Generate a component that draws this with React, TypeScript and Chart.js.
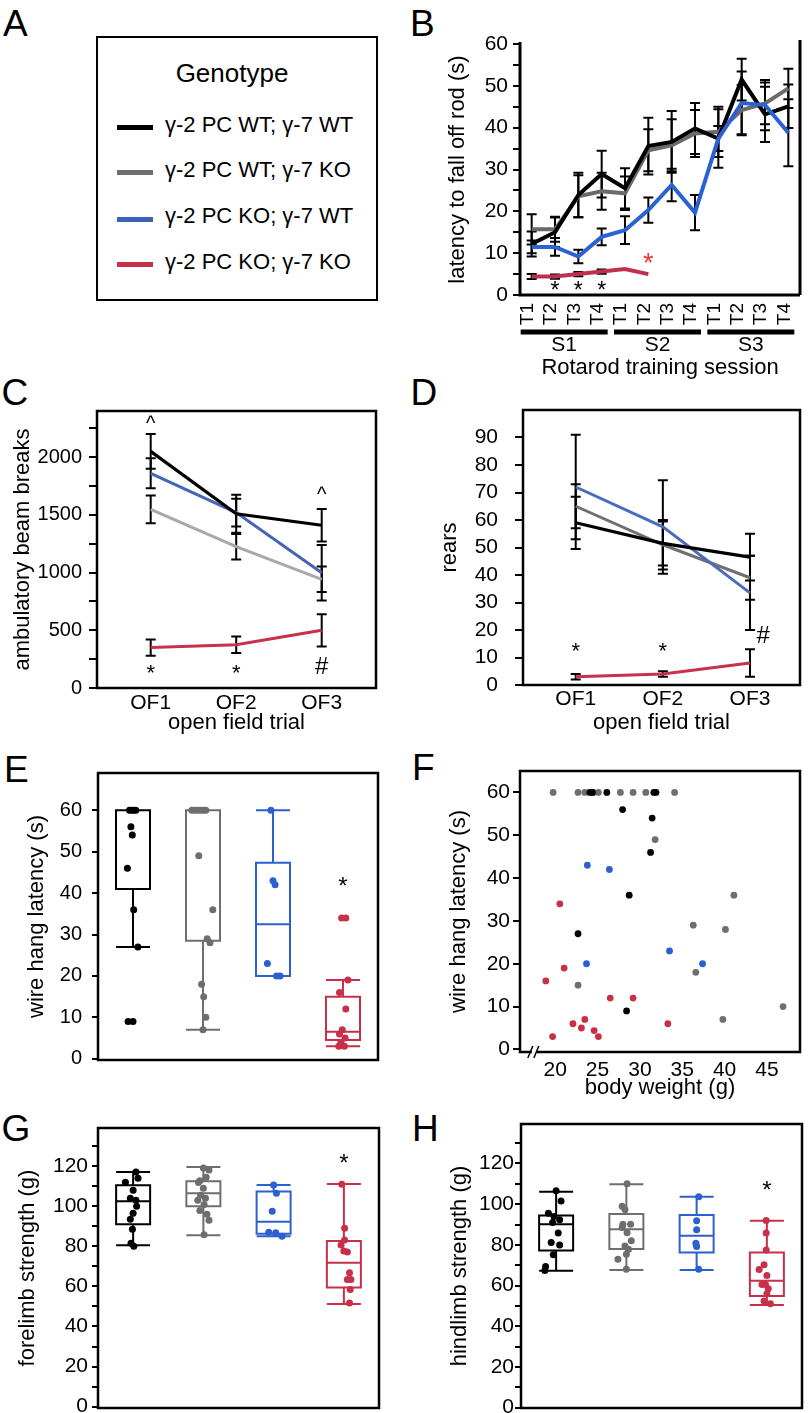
import React, { useEffect, useRef } from "react";
import { Chart, registerables } from "chart.js";

Chart.register(...registerables);

const FONT = "'Liberation Sans', Arial, Helvetica, sans-serif";
Chart.defaults.font.family = FONT;
Chart.defaults.color = "#000";

// ================= Panel A : genotypes =================
const GENOTYPES = ["γ-2 PC WT; γ-7 WT", "γ-2 PC WT; γ-7 KO", "γ-2 PC KO; γ-7 WT", "γ-2 PC KO; γ-7 KO"];
const LEGEND_COLORS = ["#000000", "#6e6e6e", "#3b62b6", "#c8304a"];

// ================= Panel B : rotarod =================
const B_TRIALS = ["T1", "T2", "T3", "T4", "T1", "T2", "T3", "T4", "T1", "T2", "T3", "T4"];
const B_SESSIONS = ["S1", "S2", "S3"];
const B_SESSION_FIRST = [0, 4, 8];
const B_SESSION_LAST = [3, 7, 11];
const B_WT_WT = [12.2, 15, 23.9, 28.9, 25.5, 35.6, 36.6, 39.8, 37.4, 51.5, 43.2, 45.1];
const B_WT_WT_SEM = [3, 3.5, 5.3, 5.6, 4.8, 6.8, 7.4, 6.1, 7, 5, 6.6, 5.2];
const B_WT_KO = [15.7, 15.7, 23.6, 24.8, 24.3, 34.6, 35.8, 38.6, 39, 44.2, 45.8, 49.4];
const B_WT_KO_SEM = [3.6, 3, 5, 4.4, 4, 5, 6.2, 5.6, 6, 6, 5, 4.7];
const B_KO_WT = [11.5, 11.5, 9.2, 13.9, 15.5, 20.3, 26.3, 19.7, 37.4, 45.9, 45.4, 38.8];
const B_KO_WT_SEM = [1.5, 2.1, 1.6, 2, 3.3, 3, 3.9, 4.2, 3, 7.5, 6, 8];
const B_KO_KO = [4.4, 4.4, 5.0, 5.6, 6.2, 5.0];
const B_KO_KO_SEM = [0.6, 0.5, 0.5, 0.5, 0, 0];
const B_Y_TICKS = [0, 5, 10, 15, 20, 25, 30, 35, 40, 45, 50, 55, 60];
const B_STAR_IDX = [1, 2, 3];
const B_STAR_Y = 0.7;
const B_RED_STAR_IDX = 5;
const B_RED_STAR_Y = 7.3;

// ================= Panels C / D : open field =================
const OF_POS = [1, 2, 3];
const OF_LABELS = ["OF1", "OF2", "OF3"];
const C_WT_WT = [2050, 1510, 1410];
const C_WT_WT_SEM = [150, 165, 140];
const C_WT_KO = [1548, 1224, 942];
const C_WT_KO_SEM = [120, 110, 110];
const C_KO_WT = [1860, 1520, 999];
const C_KO_WT_SEM = [130, 120, 240];
const C_KO_KO = [350, 375, 500];
const C_KO_KO_SEM = [70, 72, 140];
const C_Y_TICKS = [0, 250, 500, 750, 1000, 1250, 1500, 1750, 2000, 2250];
const C_MARK_X = [1, 3, 1, 2, 3];
const C_MARK_Y = [2280, 1664, 120, 120, 180];
const C_MARK_T = ["^", "^", "*", "*", "#"];

const D_WT_WT = [59, 51.5, 46.5];
const D_WT_WT_SEM = [9.5, 8, 8.5];
const D_WT_KO = [65, 51, 39];
const D_WT_KO_SEM = [8, 9, 8];
const D_KO_WT = [72, 57.5, 33.5];
const D_KO_WT_SEM = [19, 17, 13.5];
const D_KO_KO = [3, 4, 8];
const D_KO_KO_SEM = [1, 1, 5];
const D_Y_TICKS = [0, 10, 20, 30, 40, 50, 60, 70, 80, 90];
const D_MARK_X = [1, 2, 3.15];
const D_MARK_Y = [12, 12, 17.8];
const D_MARK_T = ["*", "*", "#"];

// ================= Panel E : wire hang box plots =================
const GROUP_POS = [1, 2, 3, 4];
// [whisker low, Q1, median, Q3, whisker high]
const E_STATS = [
  [27, 41, 60, 60, 60],
  [7, 28.5, 60, 60, 60],
  [20, 20, 32.5, 47.3, 60],
  [3, 4.5, 6.5, 15, 19],
];
const E_WT_WT_X = [0.95, 0.98, 1.01, 1.04, 0.97, 0.99, 0.92, 1.01, 1.07, 0.93, 1.0];
const E_WT_WT_Y = [60, 60, 60, 60, 56, 54, 46, 36, 27, 9, 9];
const E_WT_KO_X = [1.84, 1.88, 1.92, 1.96, 2.0, 2.04, 1.94, 2.14, 2.06, 2.1, 1.98, 2.01, 2.04, 2.0];
const E_WT_KO_Y = [60, 60, 60, 60, 60, 60, 49, 36, 29, 28, 18, 15, 10, 7];
const E_KO_WT_X = [2.97, 3.0, 3.03, 2.92, 3.05, 3.1];
const E_KO_WT_Y = [60, 43, 42, 23, 20, 20];
const E_KO_KO_X = [3.98, 4.04, 4.07, 3.95, 4.04, 3.99, 3.95, 4.03, 3.97, 3.94, 4.02];
const E_KO_KO_Y = [34, 34, 19, 16, 12, 7, 6, 5, 4, 3, 3];
const E_Y_TICKS = [0, 10, 20, 30, 40, 50, 60];
const E_STAR = [4, 41.4];

// ================= Panel F : wire hang vs body weight =================
const F_WT_WT_W = [24.1, 24.4, 26.1, 31.65, 31.9, 27.96, 31.45, 31.26, 28.74, 22.7, 28.43];
const F_WT_WT_L = [60, 60, 60, 60, 60, 56, 54, 46, 36, 27, 9];
const F_WT_KO_W = [19.76, 22.7, 23.5, 24.5, 25.1, 27.7, 29.2, 30.7, 34.1, 31.8, 41.1, 36.3, 40.1, 36.6, 22.7, 46.9, 39.8];
const F_WT_KO_L = [60, 60, 60, 60, 60, 60, 60, 60, 60, 49, 36, 29, 28, 18, 15, 10, 7];
const F_KO_WT_W = [23.8, 26.4, 33.5, 23.7, 37.4];
const F_KO_WT_L = [43, 42, 23, 20, 20];
const F_KO_KO_W = [20.55, 21.06, 18.9, 26.5, 29.2, 23.5, 22.1, 33.3, 23.1, 24.6, 19.7, 25.1];
const F_KO_KO_L = [34, 19, 16, 12, 12, 7, 6, 6, 5, 4.4, 3, 3];
const F_X_TICKS = [20, 25, 30, 35, 40, 45];
const F_Y_TICKS = [0, 10, 20, 30, 40, 50, 60];
const F_BREAK_AT = 17.6;

// ================= Panel G : forelimb strength =================
const G_STATS = [
  [80.5, 91, 102.5, 110.5, 117],
  [85.5, 100, 106.5, 112.5, 119.5],
  [85, 86.2, 92.3, 107.3, 110.6],
  [51.2, 59.4, 71.8, 82.6, 111.1],
];
const G_WT_WT_X = [1.04, 1.07, 0.89, 1.0, 0.96, 1.04, 1.05, 1.0, 0.96, 0.99, 0.97, 1.01];
const G_WT_WT_Y = [117, 114, 112, 108, 104, 103, 100, 96.5, 93.5, 88.5, 81.5, 80];
const G_WT_KO_X = [2.0, 2.08, 1.95, 2.04, 1.93, 2.0, 1.96, 2.03, 1.92, 2.01, 1.95, 2.05, 2.08, 2.01];
const G_WT_KO_Y = [119, 118, 112.7, 114.4, 111.8, 109, 105.5, 104, 103, 100.8, 97.8, 96, 93, 85.7];
const G_KO_WT_X = [3.0, 3.04, 2.98, 2.93, 3.03, 3.12];
const G_KO_WT_Y = [110.6, 106.4, 97.5, 87, 86.7, 85];
const G_KO_KO_X = [3.97, 4.01, 4.01, 3.96, 4.0, 4.05, 4.08, 4.05, 4.1, 4.09, 4.08];
const G_KO_KO_Y = [111, 89, 83.1, 80.7, 77.7, 77.2, 66.8, 63.5, 63.5, 58.4, 51.7];
const GH_Y_TICKS = [0, 10, 20, 30, 40, 50, 60, 70, 80, 90, 100, 110, 120, 130];
const G_STAR = [4, 121];

// ================= Panel H : hindlimb strength =================
const H_STATS = [
  [67.3, 77.2, 90.1, 94.4, 106.1],
  [67.7, 78, 87.7, 95.2, 109.8],
  [67.7, 76.3, 84.5, 94.7, 103.7],
  [50.5, 54.9, 62.4, 76.2, 91.9],
];
const H_WT_WT_X = [1.0, 1.07, 0.89, 0.97, 1.05, 0.95, 1.03, 0.93, 1.05, 0.96, 0.85, 0.84];
const H_WT_WT_Y = [106.6, 101.6, 95.5, 94, 92.3, 91, 85.8, 81.2, 80, 75.1, 69.4, 67.4];
const H_WT_KO_X = [2.01, 1.94, 1.98, 1.95, 2.06, 1.94, 2.01, 2.07, 1.98, 2.03, 2.0, 1.88, 2.0];
const H_WT_KO_Y = [110, 99, 97.4, 90.1, 90.1, 88.5, 86, 82, 79.5, 77.9, 75.4, 73, 68];
const H_KO_WT_X = [3.03, 3.0, 3.0, 2.99, 3.0, 3.03];
const H_KO_WT_Y = [103.7, 91.8, 87.4, 80.8, 79.2, 68];
const H_KO_KO_X = [3.99, 3.99, 3.99, 3.96, 3.89, 4.0, 3.98, 3.93, 4.02, 4.0, 3.96, 4.05];
const H_KO_KO_Y = [92, 85.8, 77.5, 70.3, 67.9, 64.9, 60.5, 60.5, 58.4, 56, 52.4, 51.1];
const H_STAR = [4, 106.5];

// ================= colours per panel =================
const COL_B = ["#000000", "#6a6a6a", "#2a62d4", "#c0304c"];
const COL_C = ["#000000", "#a8a8a8", "#4566b4", "#c8304c"];
const COL_D = ["#000000", "#707070", "#4a6cbf", "#c8304c"];
const COL_PTS = ["#000000", "#6e6e6e", "#2c5fd0", "#c8304a"];
const STAR_RED = "#e8383c";

// ================= helpers =================
function zeroPad(s: any) {
  s.paddingTop = 0;
  s.paddingBottom = 0;
  s.paddingLeft = 0;
  s.paddingRight = 0;
}

function yAxis(p: any) {
  return {
    type: "linear",
    position: "left",
    min: p.min,
    max: p.max,
    afterBuildTicks: (s: any) => {
      s.ticks = p.ticks.map((v: number) => ({ value: v }));
    },
    afterFit: (s: any) => {
      s.width = p.width;
      zeroPad(s);
    },
    ticks: {
      autoSkip: false,
      padding: p.tickPad,
      color: "#000",
      font: { size: p.size },
      callback: (v: any) =>
        v % p.labelStep === 0 && (p.labelMax === undefined || v <= p.labelMax) ? String(v) : "",
    },
    grid: {
      display: true,
      drawOnChartArea: false,
      drawTicks: true,
      tickLength: p.tickLen,
      tickWidth: 2,
      tickColor: "#000",
      color: "#000",
      lineWidth: 2,
    },
    border: { display: false },
    title: {
      display: true,
      text: p.title,
      color: "#000",
      font: { size: 22, lineHeight: 1.2 },
      padding: { top: p.titlePad, bottom: 0 },
    },
  };
}

function ofAxis(min: number, max: number, height: number, pad: number) {
  return {
    type: "linear",
    min,
    max,
    afterBuildTicks: (s: any) => {
      s.ticks = OF_POS.map((v) => ({ value: v }));
    },
    afterFit: (s: any) => {
      s.height = height;
      zeroPad(s);
    },
    ticks: {
      autoSkip: false,
      maxRotation: 0,
      minRotation: 0,
      padding: pad,
      color: "#000",
      font: { size: 21 },
      callback: (_v: any, i: number) => OF_LABELS[i],
    },
    grid: { display: false, drawTicks: false },
    border: { display: false },
    title: {
      display: true,
      text: "open field trial",
      color: "#000",
      font: { size: 22, lineHeight: 1.2 },
      padding: { top: 0, bottom: 3.5 },
    },
  };
}

function hiddenX(min: number, max: number) {
  return { type: "linear", min, max, display: false };
}

function lineDs(label: string, xs: number[] | null, ys: number[], color: string, width: number) {
  return {
    label,
    data: xs ? ys.map((y, i) => ({ x: xs[i], y })) : ys,
    borderColor: color,
    backgroundColor: color,
    borderWidth: width,
    pointRadius: 0,
    tension: 0,
    fill: false,
  };
}

function scatterDs(label: string, xs: number[], ys: number[], color: string, r: number) {
  return {
    label,
    type: "scatter",
    data: xs.map((x, i) => ({ x, y: ys[i] })),
    pointRadius: r,
    pointHoverRadius: r,
    pointBackgroundColor: color,
    pointBorderColor: color,
    pointBorderWidth: 0,
    showLine: false,
  };
}

function drawErr(chart: any, bars: any[]) {
  const ctx = chart.ctx;
  const ys = chart.scales.y;
  ctx.save();
  ctx.strokeStyle = "#000";
  ctx.lineWidth = 2;
  bars.forEach((eb) => {
    const meta = chart.getDatasetMeta(eb.ds);
    eb.values.forEach((v: number, i: number) => {
      const e = eb.err[i];
      const pt = meta.data[i];
      if (!e || !pt) return;
      const x = pt.x;
      const y1 = ys.getPixelForValue(v + e);
      const y2 = ys.getPixelForValue(v - e);
      ctx.beginPath();
      ctx.moveTo(x, y1);
      ctx.lineTo(x, y2);
      ctx.moveTo(x - 5, y1);
      ctx.lineTo(x + 5, y1);
      ctx.moveTo(x - 5, y2);
      ctx.lineTo(x + 5, y2);
      ctx.stroke();
    });
  });
  ctx.restore();
}

function makeDeco(o: any) {
  return {
    id: "deco",
    beforeDatasetsDraw(chart: any) {
      const ctx = chart.ctx;
      const xs = chart.scales.x;
      const ys = chart.scales.y;
      if (o.boxes) {
        ctx.save();
        ctx.lineWidth = 2;
        o.boxes.forEach((b: any) => {
          const cx = xs.getPixelForValue(b.x);
          const [lo, q1, med, q3, hi] = b.stats.map((v: number) => ys.getPixelForValue(v));
          const hw = o.boxHalf;
          ctx.strokeStyle = b.color;
          ctx.beginPath();
          ctx.rect(cx - hw, q3, 2 * hw, q1 - q3);
          ctx.moveTo(cx - hw, med);
          ctx.lineTo(cx + hw, med);
          if (b.stats[4] > b.stats[3]) {
            ctx.moveTo(cx, q3);
            ctx.lineTo(cx, hi);
            ctx.moveTo(cx - hw, hi);
            ctx.lineTo(cx + hw, hi);
          }
          if (b.stats[0] < b.stats[1]) {
            ctx.moveTo(cx, q1);
            ctx.lineTo(cx, lo);
            ctx.moveTo(cx - hw, lo);
            ctx.lineTo(cx + hw, lo);
          }
          ctx.stroke();
        });
        ctx.restore();
      }
      if (o.errBars) drawErr(chart, o.errBars);
    },
    afterDraw(chart: any) {
      const ctx = chart.ctx;
      const xs = chart.scales.x;
      const ys = chart.scales.y;
      const { left, top, right, bottom } = chart.chartArea;
      ctx.save();
      ctx.strokeStyle = "#000";
      if (o.frame === "box") {
        ctx.lineWidth = 2.5;
        ctx.strokeRect(left, top, right - left, bottom - top);
      } else if (o.frame === "axes") {
        ctx.lineWidth = 3;
        ctx.beginPath();
        ctx.moveTo(left, top - 2);
        ctx.lineTo(left, bottom);
        ctx.lineTo(right, bottom);
        ctx.moveTo(right, top - 4);
        ctx.lineTo(right, bottom);
        ctx.stroke();
      }
      if (o.sessions) {
        ctx.lineWidth = 5;
        ctx.fillStyle = "#000";
        ctx.font = `21px ${FONT}`;
        ctx.textAlign = "center";
        ctx.textBaseline = "middle";
        o.sessions.forEach((s: any) => {
          const x1 = xs.getPixelForValue(s.first) - 11;
          const x2 = xs.getPixelForValue(s.last) + 6;
          ctx.beginPath();
          ctx.moveTo(x1, bottom + 37);
          ctx.lineTo(x2, bottom + 37);
          ctx.stroke();
          ctx.fillText(s.label, (x1 + x2) / 2, bottom + 50);
        });
      }
      if (o.axisBreakAt !== undefined) {
        const px = xs.getPixelForValue(o.axisBreakAt);
        ctx.fillStyle = "#fff";
        ctx.fillRect(px - 3, bottom - 3, 5, 6);
        ctx.lineWidth = 1.5;
        ctx.beginPath();
        ctx.moveTo(px - 7, bottom + 6);
        ctx.lineTo(px - 2, bottom - 6);
        ctx.moveTo(px - 1, bottom + 6);
        ctx.lineTo(px + 4, bottom - 6);
        ctx.stroke();
      }
      if (o.texts) {
        ctx.textAlign = "center";
        ctx.textBaseline = "middle";
        o.texts.forEach((t: any) => {
          ctx.fillStyle = t.color;
          ctx.font = `${t.size}px ${FONT}`;
          ctx.fillText(t.text, xs.getPixelForValue(t.x), ys.getPixelForValue(t.y));
        });
      }
      ctx.restore();
    },
  };
}

const baseOptions = (padding: any) => ({
  responsive: false,
  animation: false,
  devicePixelRatio: 1,
  layout: { padding },
  plugins: { legend: { display: false }, tooltip: { enabled: false }, title: { display: false } },
});

// ================= configs =================
function configB() {
  return {
    type: "line",
    data: {
      labels: B_TRIALS,
      datasets: [
        lineDs(GENOTYPES[2], null, B_KO_WT, COL_B[2], 4),
        lineDs(GENOTYPES[0], null, B_WT_WT, COL_B[0], 4),
        lineDs(GENOTYPES[1], null, B_WT_KO, COL_B[1], 4),
        lineDs(GENOTYPES[3], null, B_KO_KO, COL_B[3], 4),
      ],
    },
    options: {
      ...baseOptions({ left: 0, top: 44, right: 8, bottom: 0 }),
      scales: {
        x: {
          type: "category",
          offset: true,
          afterFit: (s: any) => {
            s.height = 90;
            zeroPad(s);
          },
          grid: { display: false, drawTicks: false },
          border: { display: false },
          ticks: {
            autoSkip: false,
            minRotation: 90,
            maxRotation: 90,
            padding: 8,
            labelOffset: -4,
            color: "#000",
            font: { size: 19 },
          },
          title: {
            display: true,
            text: "Rotarod training session",
            color: "#000",
            font: { size: 22, lineHeight: 1.2 },
            padding: { top: 0, bottom: 4 },
          },
        },
        y: yAxis({
          min: 0, max: 60, ticks: B_Y_TICKS, labelStep: 10, width: 120,
          title: "latency to fall off rod (s)", titlePad: 45, tickLen: 7, tickPad: 5, size: 21,
        }),
      },
    },
    plugins: [
      makeDeco({
        frame: "axes",
        errBars: [
          { ds: 0, values: B_KO_WT, err: B_KO_WT_SEM },
          { ds: 1, values: B_WT_WT, err: B_WT_WT_SEM },
          { ds: 2, values: B_WT_KO, err: B_WT_KO_SEM },
          { ds: 3, values: B_KO_KO, err: B_KO_KO_SEM },
        ],
        sessions: B_SESSIONS.map((label, i) => ({ label, first: B_SESSION_FIRST[i], last: B_SESSION_LAST[i] })),
        texts: [
          ...B_STAR_IDX.map((x) => ({ x, y: B_STAR_Y, text: "*", color: "#000", size: 23 })),
          { x: B_RED_STAR_IDX, y: B_RED_STAR_Y, text: "*", color: STAR_RED, size: 27 },
        ],
      }),
    ],
  };
}

function configOF(
  which: "C" | "D"
) {
  const isC = which === "C";
  const col = isC ? COL_C : COL_D;
  const v = isC ? [C_WT_WT, C_WT_KO, C_KO_WT, C_KO_KO] : [D_WT_WT, D_WT_KO, D_KO_WT, D_KO_KO];
  const e = isC
    ? [C_WT_WT_SEM, C_WT_KO_SEM, C_KO_WT_SEM, C_KO_KO_SEM]
    : [D_WT_WT_SEM, D_WT_KO_SEM, D_KO_WT_SEM, D_KO_KO_SEM];
  // drawing order: red, black, blue, gray (index 0 on top)
  const order = [3, 0, 2, 1];
  const markX = isC ? C_MARK_X : D_MARK_X;
  const markY = isC ? C_MARK_Y : D_MARK_Y;
  const markT = isC ? C_MARK_T : D_MARK_T;
  return {
    type: "line",
    data: {
      datasets: order.map((g) => lineDs(GENOTYPES[g], OF_POS, v[g], col[g], g === 0 ? 3.2 : 3)),
    },
    options: {
      ...baseOptions(isC ? { left: 0, top: 31, right: 24, bottom: 0 } : { left: 0, top: 30, right: 8, bottom: 0 }),
      scales: {
        x: isC ? ofAxis(0.372, 3.635, 52, 3) : ofAxis(0.395, 3.574, 55, 2),
        y: isC
          ? yAxis({
              min: 0, max: 2400, ticks: C_Y_TICKS, labelStep: 500, width: 97,
              title: "ambulatory beam breaks", titlePad: 10, tickLen: 8, tickPad: 7, size: 20,
            })
          : yAxis({
              min: 0, max: 100, ticks: D_Y_TICKS, labelStep: 10, width: 123,
              title: "rears", titlePad: 37, tickLen: 8, tickPad: 17, size: 21,
            }),
      },
    },
    plugins: [
      makeDeco({
        frame: "box",
        errBars: order.map((g, i) => ({ ds: i, values: v[g], err: e[g] })),
        texts: markT.map((t, i) => ({
          x: markX[i],
          y: markY[i],
          text: t,
          color: "#000",
          size: t === "^" ? 20 : t === "#" ? 24 : 22,
        })),
      }),
    ],
  };
}

function configBox(which: "E" | "G" | "H") {
  const P: any = {
    E: {
      stats: E_STATS,
      xs: [E_WT_WT_X, E_WT_KO_X, E_KO_WT_X, E_KO_KO_X],
      ys: [E_WT_WT_Y, E_WT_KO_Y, E_KO_WT_Y, E_KO_KO_Y],
      star: E_STAR,
      pad: { left: 0, top: 33, right: 22, bottom: 10 },
      y: yAxis({
        min: -0.3, max: 69, ticks: E_Y_TICKS, labelStep: 10, width: 98,
        title: "wire hang latency (s)", titlePad: 23.5, tickLen: 6, tickPad: 10, size: 20,
      }),
    },
    G: {
      stats: G_STATS,
      xs: [G_WT_WT_X, G_WT_KO_X, G_KO_WT_X, G_KO_KO_X],
      ys: [G_WT_WT_Y, G_WT_KO_Y, G_KO_WT_Y, G_KO_KO_Y],
      star: G_STAR,
      pad: { left: 0, top: 28, right: 21, bottom: 5 },
      y: yAxis({
        min: -0.65, max: 139, ticks: GH_Y_TICKS, labelStep: 20, labelMax: 120, width: 98,
        title: "forelimb strength (g)", titlePad: 15, tickLen: 6, tickPad: 4, size: 21,
      }),
    },
    H: {
      stats: H_STATS,
      xs: [H_WT_WT_X, H_WT_KO_X, H_KO_WT_X, H_KO_KO_X],
      ys: [H_WT_WT_Y, H_WT_KO_Y, H_KO_WT_Y, H_KO_KO_Y],
      star: H_STAR,
      pad: { left: 0, top: 24, right: 6, bottom: 5 },
      y: yAxis({
        min: -0.15, max: 139.4, ticks: GH_Y_TICKS, labelStep: 20, labelMax: 120, width: 121,
        title: "hindlimb strength (g)", titlePad: 47, tickLen: 6, tickPad: 1, size: 21,
      }),
    },
  }[which];
  return {
    type: "scatter",
    data: {
      datasets: [0, 1, 2, 3].map((g) => scatterDs(GENOTYPES[g], P.xs[g], P.ys[g], COL_PTS[g], 3.5)),
    },
    options: {
      ...baseOptions(P.pad),
      scales: { x: hiddenX(0.5, 4.5), y: P.y },
    },
    plugins: [
      makeDeco({
        frame: "box",
        boxHalf: 17,
        boxes: GROUP_POS.map((x, g) => ({ x, stats: P.stats[g], color: COL_PTS[g] })),
        texts: [{ x: P.star[0], y: P.star[1], text: "*", color: "#000", size: 24 }],
      }),
    ],
  };
}

function configF() {
  const ws = [F_WT_WT_W, F_WT_KO_W, F_KO_WT_W, F_KO_KO_W];
  const ls = [F_WT_WT_L, F_WT_KO_L, F_KO_WT_L, F_KO_KO_L];
  const order = [0, 2, 3, 1];
  return {
    type: "scatter",
    data: {
      datasets: order.map((g) => scatterDs(GENOTYPES[g], ws[g], ls[g], COL_PTS[g], 3.4)),
    },
    options: {
      ...baseOptions({ left: 0, top: 31, right: 8, bottom: 0 }),
      scales: {
        x: {
          type: "linear",
          min: 15.85,
          max: 48.9,
          afterBuildTicks: (s: any) => {
            s.ticks = F_X_TICKS.map((v) => ({ value: v }));
          },
          afterFit: (s: any) => {
            s.height = 50;
            zeroPad(s);
          },
          ticks: {
            autoSkip: false,
            maxRotation: 0,
            minRotation: 0,
            padding: 6,
            color: "#000",
            font: { size: 21 },
            callback: (v: any) => String(v),
          },
          grid: { display: false, drawTicks: false },
          border: { display: false },
          title: {
            display: true,
            text: "body weight (g)",
            color: "#000",
            font: { size: 22, lineHeight: 1.2 },
            padding: { top: 0, bottom: 1 },
          },
        },
        y: yAxis({
          min: -0.6, max: 65, ticks: F_Y_TICKS, labelStep: 10, width: 120,
          title: "wire hang latency (s)", titlePad: 46, tickLen: 7, tickPad: 3, size: 21,
        }),
      },
    },
    plugins: [makeDeco({ frame: "box", axisBreakAt: F_BREAK_AT })],
  };
}

const PANELS = [
  { id: "B", left: 400, top: 0, width: 408, height: 385, make: configB },
  { id: "C", left: 0, top: 380, width: 400, height: 360, make: () => configOF("C") },
  { id: "D", left: 400, top: 380, width: 408, height: 360, make: () => configOF("D") },
  { id: "E", left: 0, top: 740, width: 400, height: 330, make: () => configBox("E") },
  { id: "F", left: 400, top: 740, width: 408, height: 362, make: configF },
  { id: "G", left: 0, top: 1100, width: 400, height: 313, make: () => configBox("G") },
  { id: "H", left: 400, top: 1100, width: 408, height: 313, make: () => configBox("H") },
];

const LETTERS = [
  { t: "A", left: 3, top: 5 },
  { t: "B", left: 410, top: 5 },
  { t: "C", left: 1.5, top: 374 },
  { t: "D", left: 410.5, top: 374 },
  { t: "E", left: 4, top: 751 },
  { t: "F", left: 412, top: 749 },
  { t: "G", left: 1.5, top: 1110 },
  { t: "H", left: 412, top: 1110 },
];

function ChartCanvas({ spec }: { spec: any }) {
  const ref = useRef<HTMLCanvasElement>(null);
  useEffect(() => {
    const chart = new Chart(ref.current as any, spec.make() as any);
    return () => chart.destroy();
  }, []);
  return (
    <canvas
      ref={ref}
      width={spec.width}
      height={spec.height}
      style={{ position: "absolute", left: spec.left, top: spec.top, width: spec.width, height: spec.height }}
    />
  );
}

function Legend() {
  const lineY = [127.7, 172.7, 219, 264.3];
  return (
    <>
      <div
        style={{
          position: "absolute", left: 96, top: 36, width: 282, height: 265,
          border: "2px solid #000", boxSizing: "border-box",
        }}
      />
      <div
        style={{
          position: "absolute", left: 96, top: 60, width: 272, textAlign: "center",
          fontSize: 26, lineHeight: "26px", whiteSpace: "nowrap",
        }}
      >
        Genotype
      </div>
      {GENOTYPES.map((g, i) => (
        <React.Fragment key={g}>
          <div
            style={{
              position: "absolute", left: 117, top: lineY[i] - 2.5, width: 36, height: 5,
              background: LEGEND_COLORS[i],
            }}
          />
          <div
            style={{
              position: "absolute", left: 165, top: lineY[i] + 5 - 18.6,
              fontSize: 22, lineHeight: "22px", whiteSpace: "nowrap",
            }}
          >
            {g}
          </div>
        </React.Fragment>
      ))}
    </>
  );
}

export default function App() {
  return (
    <div
      style={{
        position: "absolute", left: 0, top: 0, width: 808, height: 1413,
        background: "#fff", overflow: "hidden", fontFamily: FONT, color: "#000",
      }}
    >
      {LETTERS.map((l) => (
        <div
          key={l.t}
          style={{ position: "absolute", left: l.left, top: l.top, fontSize: 37, lineHeight: "37px" }}
        >
          {l.t}
        </div>
      ))}
      <Legend />
      {PANELS.map((p) => (
        <ChartCanvas key={p.id} spec={p} />
      ))}
    </div>
  );
}
